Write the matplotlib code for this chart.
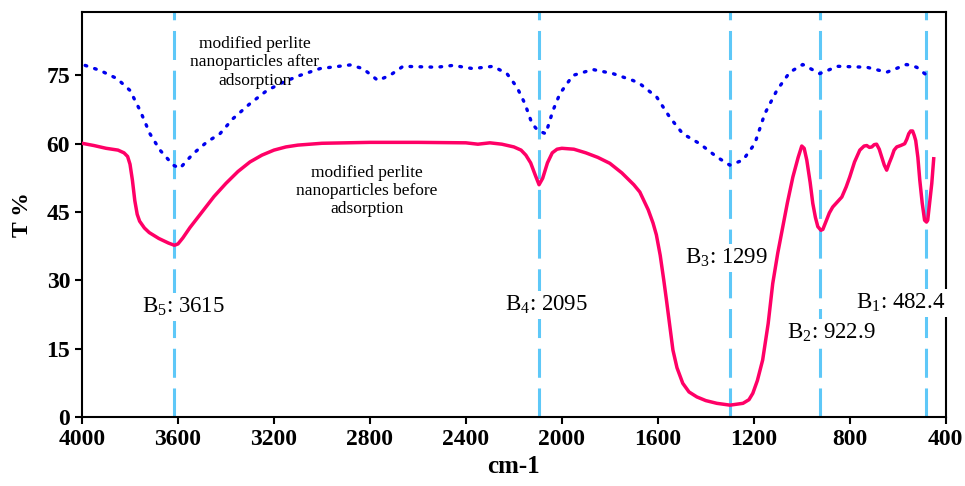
import matplotlib
matplotlib.use('Agg')
from matplotlib import pyplot as plt

plt.rcParams['font.family'] = ['Liberation Serif', 'DejaVu Serif']
plt.rcParams['mathtext.fontset'] = 'custom'
plt.rcParams['mathtext.rm'] = 'Liberation Serif'
plt.rcParams['mathtext.it'] = 'Liberation Serif:italic'

# before adsorption (solid)
wn_before = [4000, 3950, 3900, 3850, 3825, 3810, 3800, 3790, 3780, 3770, 3760, 3740, 3720,
             3680, 3640, 3615, 3600, 3580, 3550, 3500, 3450, 3400, 3350, 3300, 3250, 3200,
             3150, 3100, 3000, 2800, 2600, 2400, 2350, 2300, 2250, 2200, 2170, 2150, 2130,
             2110, 2095, 2080, 2060, 2040, 2020, 2000, 1950, 1900, 1850, 1800, 1750, 1700,
             1675, 1640, 1620, 1606, 1590, 1575, 1564, 1550, 1537, 1520, 1496, 1470, 1437,
             1400, 1354, 1299, 1245, 1220, 1204, 1185, 1163, 1140, 1121, 1100, 1079, 1060,
             1037, 1015, 1000, 990, 979, 965, 954, 943, 933, 920, 912, 900, 885, 871, 850,
             833, 815, 800, 780, 758, 740, 729, 718, 708, 698, 688, 677, 667, 656, 646, 635,
             625, 615, 604, 588, 571, 562, 554, 546, 538, 531, 525, 516, 508, 498, 488, 480,
             475, 466, 458, 450]
t_before = [60.1, 59.6, 59.0, 58.6, 58.0, 57.2, 55.5, 52.0, 47.5, 44.5, 43.0, 41.5, 40.5,
            39.2, 38.2, 37.7, 38.0, 39.3, 41.6, 45.0, 48.4, 51.3, 53.9, 56.0, 57.5, 58.6,
            59.3, 59.7, 60.1, 60.3, 60.3, 60.2, 59.9, 60.2, 59.9, 59.3, 58.6, 57.5, 55.8,
            53.0, 51.0, 52.4, 55.8, 58.0, 58.8, 59.0, 58.8, 58.0, 57.0, 55.7, 53.6, 51.0,
            49.4, 45.5, 42.6, 40.0, 35.5, 30.0, 25.7, 20.0, 14.7, 10.8, 7.4, 5.5, 4.4,
            3.6, 3.0, 2.6, 3.0, 3.8, 5.2, 8.0, 12.5, 20.5, 29.3, 36.0, 41.8, 47.0,
            52.7, 57.0, 59.5, 59.0, 56.4, 51.5, 46.9, 43.8, 41.8, 41.0, 41.2, 42.8, 44.8, 46.1, 47.3,
            48.3, 50.5, 52.7, 56.0, 58.6, 59.5, 59.6, 59.2, 59.3, 59.8, 59.9, 58.8, 57.1, 55.3, 54.2, 55.8,
            57.1, 58.6, 59.3, 59.6, 60.0, 61.0, 62.2, 62.8, 62.8, 61.8, 60.7, 57.0, 52.0, 47.0,
            43.2, 42.8, 43.2, 47.5, 51.3, 56.7]

# after adsorption (dotted)
wn_after = [3987, 3925, 3854, 3800, 3758, 3717, 3675, 3620, 3592, 3537, 3479, 3425, 3371,
            3300, 3229, 3162, 3092, 3008, 2883, 2829, 2767, 2717, 2662, 2521, 2454, 2371,
            2287, 2229, 2187, 2154, 2125, 2100, 2067, 2037, 2008, 1954, 1871, 1787, 1704,
            1675, 1604, 1550, 1496, 1425, 1354, 1300, 1245, 1196, 1154, 1104, 1050, 996,
            925, 850, 729, 646, 563, 521, 483, 458]
t_after = [77.2, 76.1, 74.3, 71.7, 67.3, 62.2, 58.6, 55.3, 54.6, 57.8, 60.4, 62.2, 65.5,
           68.8, 71.7, 73.5, 75.0, 76.5, 77.3, 76.5, 73.9, 75.0, 77.0, 76.8, 77.2, 76.5,
           77.0, 75.4, 72.4, 68.8, 64.5, 62.9, 62.2, 67.3, 71.0, 75.0, 76.3, 75.4, 73.9,
           73.2, 70.2, 65.8, 62.2, 60.0, 57.1, 55.3, 56.4, 60.0, 66.6, 71.7, 75.7, 77.4,
           75.4, 77.0, 76.8, 75.7, 77.4, 76.8, 75.2, 75.9]

# band positions and their labels
bands = [3615, 2095, 1299, 922.9, 482.4]
band_labels = [r'B$_\mathrm{5}$: 3615', r'B$_\mathrm{4}$: 2095', r'B$_\mathrm{3}$: 1299',
               r'B$_\mathrm{2}$: 922.9', r'B$_\mathrm{1}$: 482.4']
label_x = [3750, 2238, 1488, 1063, 775]
label_y = [24.1, 24.6, 34.9, 18.4, 25.0]

fig = plt.figure(figsize=(9.65, 4.86), dpi=100)
ax = fig.add_axes([0.085, 0.142, 0.895, 0.834])

for b in bands:
    ax.axvline(b, color='#5EC8F8', lw=2.2, dashes=(9.5, 3.5), zorder=1)

ax.plot(wn_before, t_before, color='#FF0066', lw=2.5, zorder=3, solid_joinstyle='round')
ax.plot(wn_after, t_after, color='#0000EE', lw=2.4, linestyle=(0, (0.5, 2.5)),
        dash_capstyle='round', zorder=3)

for x, y, s in zip(label_x, label_y, band_labels):
    ax.text(x, y, s, fontsize=16.5, ha='left', va='center', zorder=4, clip_on=False,
            bbox=dict(facecolor='white', edgecolor='none', pad=2))

ax.text(3280, 77.9, 'modified perlite\nnanoparticles after\nadsorption', fontsize=12.5,
        ha='center', va='center', linespacing=1.2, zorder=4)
ax.text(2812, 49.6, 'modified perlite\nnanoparticles before\nadsorption', fontsize=12.5,
        ha='center', va='center', linespacing=1.2, zorder=4)

ax.set_xlim(4000, 400)
ax.set_ylim(0, 89)
ax.set_xticks(range(4000, 399, -400))
ax.set_yticks(range(0, 76, 15))
ax.tick_params(labelsize=17, width=1.5, length=5, direction='out')
for lab in ax.get_xticklabels() + ax.get_yticklabels():
    lab.set_fontweight('bold')
for sp in ax.spines.values():
    sp.set_linewidth(1.5)

ax.set_xlabel('cm-1', fontsize=18, fontweight='bold', labelpad=4)
ax.set_ylabel('T %', fontsize=17, fontweight='bold', labelpad=10)

plt.savefig('out.png', dpi=100)
